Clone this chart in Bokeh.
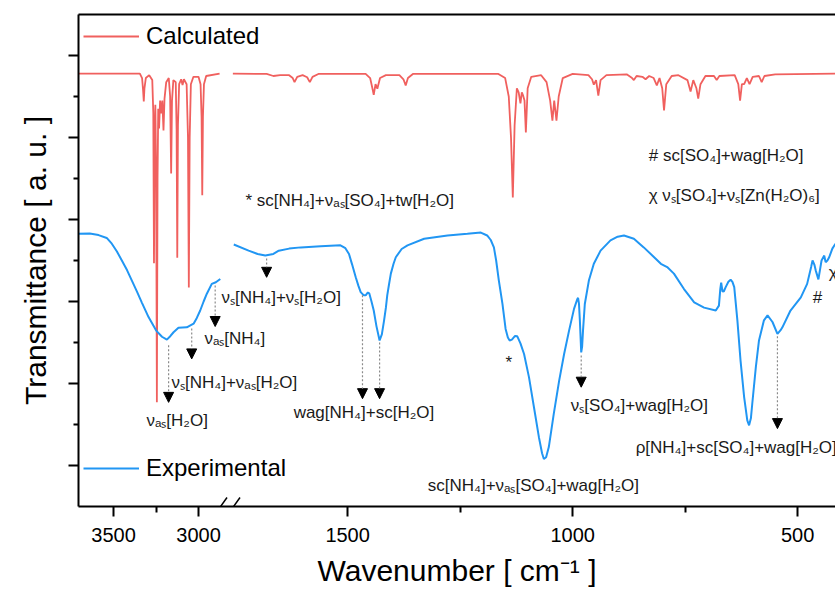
from bokeh.plotting import figure
from bokeh.models import (Range1d, FixedTicker, LinearAxis, Label, Arrow, NormalHead,
                          Legend, LegendItem, ColumnDataSource, Grid)
from bokeh.embed import file_html
from bokeh.resources import INLINE

# ---------------- data (wavenumber in cm^-1, transmittance in a.u.) ----------------
# Calculated spectrum, high-wavenumber segment
calc_hi_wn = [3706, 3345, 3332, 3326, 3322, 3318, 3310, 3290, 3272, 3266, 3262, 3258, 3254,
              3249, 3245, 3241, 3237, 3232, 3226, 3219, 3213, 3206, 3200, 3190, 3175, 3167,
              3161, 3156, 3148, 3134, 3129, 3125, 3121, 3114, 3102, 3094, 3086, 3070, 3062,
              3057, 3052, 3045, 3030, 3000, 2988, 2982, 2978, 2974, 2968, 2955, 2876]
calc_hi_t = [10.56, 10.56, 10.45, 10.15, 9.88, 10.2, 10.45, 10.52, 10.40, 9.6, 5.93, 9.0, 9.8,
             8.0, 2.54, 8.0, 9.7, 9.22, 9.9, 9.59, 9.9, 9.17, 9.95, 10.35, 10.45, 10.0,
             8.12, 9.9, 10.4, 10.35, 9.2, 6.07, 9.3, 10.3, 10.42, 10.28, 10.42, 10.3, 9.0,
             5.34, 9.0, 10.3, 10.48, 10.48, 10.3, 9.5, 7.59, 9.5, 10.3, 10.5, 10.56]

# Calculated spectrum, low-wavenumber segment
calc_lo_wn = [1755, 1680, 1665, 1650, 1630, 1622, 1618, 1612, 1600, 1590, 1584, 1578, 1565,
              1460, 1450, 1445, 1442, 1438, 1434, 1428, 1415, 1385, 1376, 1371, 1366, 1355,
              1165, 1150, 1142, 1137, 1133, 1129, 1124, 1120, 1116, 1113, 1110, 1107, 1104,
              1100, 1092, 1070, 1058, 1050, 1045, 1041, 1036, 1031, 1022, 1000, 965, 957,
              953, 948, 943, 938, 925, 880, 868, 864, 858, 845, 838, 830, 820, 813, 807,
              801, 797, 792, 780, 765, 745, 738, 732, 725, 721, 716, 705, 686, 680, 674,
              640, 632, 628, 624, 619, 613, 607, 600, 586, 580, 574, 550, 416]
calc_lo_t = [10.56, 10.55, 10.50, 10.52, 10.52, 10.45, 10.35, 10.48, 10.52, 10.47, 10.35, 10.48, 10.55,
             10.55, 10.45, 10.2, 10.04, 10.3, 10.19, 10.45, 10.52, 10.52, 10.42, 10.27, 10.45, 10.55,
             10.55, 10.45, 10.0, 9.0, 7.54, 9.3, 10.2, 10.1, 9.83, 10.1, 10.02, 9.9, 9.12,
             10.2, 10.48, 10.52, 10.35, 9.9, 9.41, 9.9, 9.41, 10.0, 10.45, 10.55, 10.52, 10.42,
             10.29, 10.4, 10.02, 10.4, 10.52, 10.54, 10.45, 10.4, 10.5, 10.48, 10.42, 10.5, 10.45, 10.27, 10.45,
             10.2, 9.66, 10.3, 10.5, 10.52, 10.4, 10.12, 10.4, 10.2, 9.95, 10.3, 10.5, 10.5, 10.4, 10.5,
             10.52, 10.3, 9.90, 10.3, 10.3, 10.45, 10.3, 10.48, 10.5, 10.35, 10.5, 10.54, 10.56]

# Experimental spectrum, high-wavenumber segment
exp_hi_wn = [3706, 3640, 3588, 3540, 3510, 3480, 3451, 3420, 3392, 3362, 3334, 3294, 3249,
             3215, 3186, 3165, 3147, 3118, 3069, 3029, 3010, 2990, 2970, 2951, 2922, 2898, 2872]
exp_hi_t = [6.65, 6.66, 6.62, 6.55, 6.41, 6.22, 6.00, 5.76, 5.51, 5.24, 4.98, 4.62, 4.29,
            4.14, 4.07, 4.16, 4.25, 4.36, 4.37, 4.46, 4.60, 4.78, 5.00, 5.19, 5.43, 5.47, 5.55]

# Experimental spectrum, low-wavenumber segment
exp_lo_wn = [1753, 1720, 1700, 1683, 1665, 1653, 1630, 1604, 1560, 1516, 1505, 1497, 1490,
             1482, 1476, 1471, 1464, 1460, 1455, 1452, 1447, 1442, 1436, 1429, 1424, 1419,
             1415, 1412, 1408, 1404, 1398, 1393, 1380, 1367, 1330, 1278, 1234, 1204, 1190,
             1182, 1175, 1170, 1164, 1156, 1149, 1144, 1140, 1135, 1128, 1123, 1116, 1108,
             1097, 1086, 1075, 1068, 1064, 1059, 1053, 1042, 1030, 1019, 1008, 997, 990,
             988, 986, 984, 981, 979, 977, 973, 964, 953, 938, 916, 900, 886, 864, 842,
             819, 804, 790, 775, 753, 730, 708, 682, 675, 672, 670, 667, 664, 660, 654,
             649, 645, 641, 634, 627, 619, 612, 608, 604, 601, 593, 586, 575, 567, 556,
             545, 538, 534, 516, 493, 479, 470, 467, 463, 460, 454, 450, 447, 441, 438,
             434, 430, 423, 416]
exp_lo_t = [6.39, 6.24, 6.16, 6.12, 6.16, 6.24, 6.29, 6.32, 6.35, 6.37, 6.30, 6.16, 5.90,
            5.59, 5.38, 5.23, 5.15, 5.15, 5.22, 5.20, 5.00, 4.78, 4.40, 4.05, 4.20, 4.54,
            4.85, 5.15, 5.42, 5.68, 5.92, 6.08, 6.28, 6.37, 6.53, 6.61, 6.65, 6.68, 6.61,
            6.50, 6.32, 6.00, 5.51, 4.94, 4.33, 4.12, 4.05, 4.07, 4.16, 4.15, 3.98, 3.72,
            3.15, 2.42, 1.69, 1.30, 1.16, 1.20, 1.45, 2.26, 3.07, 3.72, 4.29, 4.82, 5.05,
            5.09, 4.95, 4.54, 3.76, 3.90, 4.29, 4.94, 5.51, 5.92, 6.24, 6.49, 6.58, 6.61, 6.53, 6.32,
            6.08, 5.92, 5.84, 5.68, 5.31, 4.98, 4.85, 4.78, 4.90, 5.30, 5.46, 5.24, 5.25, 5.35, 5.48,
            5.53, 5.48, 5.35, 4.54, 3.56, 2.67, 2.10, 1.98, 2.15, 2.50, 3.40, 4.05, 4.54, 4.66, 4.50,
            4.21, 4.30, 4.37, 4.78, 5.10, 5.43, 5.85, 6.00, 5.90, 5.76, 5.54, 5.80, 6.00, 6.12, 5.96,
            6.00, 6.08, 6.29, 6.41]

x_ticks_hi = [3500, 3000]
x_minor_hi = [3250]
x_ticks_lo = [1500, 1000, 500]
x_minor_lo = [1250, 750]
y_major = [1, 3, 5, 7, 9, 11]
y_minor = [2, 4, 6, 8, 10]

series_names = ["Calculated", "Experimental"]

# ---------------- styling ----------------
FONT = "Liberation Sans"
RED = "#F0605E"
BLUE = "#2196F3"
TXT = "#1a1a1a"
W, H = 835, 590

# broken axis: both segments share the same frame, each with its own linear scale
lo_range = Range1d(2098, 416)     # default x range (low-wavenumber segment)
hi_range = Range1d(3706, -747)    # extra x range (high-wavenumber segment)


def hi_to_lo(w):
    frac = (w - hi_range.start) / (hi_range.end - hi_range.start)
    return round(lo_range.start + frac * (lo_range.end - lo_range.start), 3)


p = figure(width=W, height=H, x_range=lo_range, y_range=Range1d(0, 12),
           output_backend="svg", toolbar_location=None,
           x_axis_location=None, y_axis_location=None,
           min_border_left=78, min_border_right=0, min_border_top=14, min_border_bottom=84)
p.extra_x_ranges = {"hi": hi_range}
p.outline_line_color = None
p.background_fill_color = "white"
p.border_fill_color = "white"
for r in list(p.center):
    if isinstance(r, Grid):
        r.visible = False

# bottom axis with ticks of both segments
maj = [hi_to_lo(t) for t in x_ticks_hi] + x_ticks_lo
mnr = [hi_to_lo(t) for t in x_minor_hi] + x_minor_lo
overrides = {hi_to_lo(t): str(t) for t in x_ticks_hi}
overrides.update({t: str(t) for t in x_ticks_lo})
xax = LinearAxis(ticker=FixedTicker(ticks=maj, minor_ticks=mnr), major_label_overrides=overrides)
xax.axis_line_width = 2
xax.major_tick_out = 10
xax.major_tick_in = 0
xax.minor_tick_out = 6
xax.minor_tick_in = 0
xax.major_tick_line_width = 2
xax.minor_tick_line_width = 2
xax.major_label_text_font = FONT
xax.major_label_text_font_size = "20px"
xax.major_label_text_color = "black"
xax.major_label_standoff = 11
xax.axis_label = "Wavenumber [ cm\u207b\u00b9 ]"
xax.axis_label_text_font = FONT
xax.axis_label_text_font_size = "30px"
xax.axis_label_text_font_style = "normal"
xax.axis_label_text_color = "black"
xax.axis_label_standoff = 9
p.add_layout(xax, "below")

# top border
tax = LinearAxis(ticker=FixedTicker(ticks=[]))
tax.axis_line_width = 2
tax.major_tick_out = 0
tax.minor_tick_out = 0
tax.major_label_standoff = 0
p.add_layout(tax, "above")

# left axis: ticks without labels
yax = LinearAxis(ticker=FixedTicker(ticks=y_major, minor_ticks=y_minor),
                 major_label_overrides={t: "" for t in y_major})
yax.axis_line_width = 2
yax.major_tick_out = 10
yax.major_tick_in = 0
yax.minor_tick_out = 5
yax.minor_tick_in = 0
yax.major_tick_line_width = 2
yax.minor_tick_line_width = 2
yax.major_label_standoff = 0
yax.axis_label = "Transmittance [ a. u. ]"
yax.axis_label_text_font = FONT
yax.axis_label_text_font_size = "30px"
yax.axis_label_text_font_style = "normal"
yax.axis_label_text_color = "black"
yax.axis_label_standoff = 17
p.add_layout(yax, "left")

# spectra
src_c_hi = ColumnDataSource(dict(wn=calc_hi_wn, t=calc_hi_t))
src_c_lo = ColumnDataSource(dict(wn=calc_lo_wn, t=calc_lo_t))
src_e_hi = ColumnDataSource(dict(wn=exp_hi_wn, t=exp_hi_t))
src_e_lo = ColumnDataSource(dict(wn=exp_lo_wn, t=exp_lo_t))

r_c_hi = p.line("wn", "t", source=src_c_hi, line_color=RED, line_width=1.8, x_range_name="hi")
r_e_hi = p.line("wn", "t", source=src_e_hi, line_color=BLUE, line_width=2, x_range_name="hi")
p.line("wn", "t", source=src_c_lo, line_color=RED, line_width=1.8)
p.line("wn", "t", source=src_e_lo, line_color=BLUE, line_width=2)

# legends
for name, rend, vy in [(series_names[0], r_c_hi, 456), (series_names[1], r_e_hi, 24)]:
    lg = Legend(items=[LegendItem(label=name, renderers=[rend])], location=(5, vy))
    lg.padding = 0
    lg.margin = 0
    lg.glyph_width = 56
    lg.glyph_height = 28
    lg.label_height = 28
    lg.label_standoff = 7
    lg.label_text_font = FONT
    lg.label_text_font_size = "24px"
    lg.label_text_color = "black"
    lg.border_line_color = None
    lg.background_fill_alpha = 0
    p.add_layout(lg)

# axis break marks (visible part inside the frame)
for x0 in (135, 148):
    p.add_layout(Arrow(end=None, x_start=x0, y_start=-10, x_end=x0 + 13.5, y_end=9,
                       start_units="screen", end_units="screen",
                       line_color="black", line_width=1.5))

# band assignments (text, x, y, align, x-range)
annotations = [
    ("\u03bd\u209b[NH\u2084]+\u03bd\u209b[H\u2082O]", 2865, 5.10, "left", "hi"),
    ("\u03bd\u2090\u209b[NH\u2084]", 2965, 4.10, "left", "hi"),
    ("\u03bd\u209b[NH\u2084]+\u03bd\u2090\u209b[H\u2082O]", 3159, 3.03, "left", "hi"),
    ("\u03bd\u2090\u209b[H\u2082O]", 3306, 2.10, "left", "hi"),
    ("* sc[NH\u2084]+\u03bd\u2090\u209b[SO\u2084]+tw[H\u2082O]", 1727, 7.46, "left", "default"),
    ("# sc[SO\u2084]+wag[H\u2082O]", 831, 8.56, "left", "default"),
    ("\u03c7 \u03bd\u209b[SO\u2084]+\u03bd\u209b[Zn(H\u2082O)\u2086]", 831, 7.59, "left", "default"),
    ("wag[NH\u2084]+sc[H\u2082O]", 1620, 2.30, "left", "default"),
    ("*", 1142, 3.51, "center", "default"),
    ("\u03bd\u209b[SO\u2084]+wag[H\u2082O]", 1004, 2.46, "left", "default"),
    ("sc[NH\u2084]+\u03bd\u2090\u209b[SO\u2084]+wag[H\u2082O]", 1322, 0.51, "left", "default"),
    ("\u03c1[NH\u2084]+sc[SO\u2084]+wag[H\u2082O]", 860, 1.45, "left", "default"),
    ("#", 456, 5.10, "center", "default"),
    ("\u03c7", 431, 5.71, "left", "default"),
]
for txt, x, y, al, rn in annotations:
    p.add_layout(Label(x=x, y=y, x_range_name=rn, text=txt, text_font=FONT,
                       text_font_size="17px", text_color=TXT, text_align=al,
                       text_baseline="middle"))

# assignment arrows (x, y_start, y_end, x-range)
arrows = [(3176, 3.93, 2.54, "hi"), (3040, 4.34, 3.60, "hi"), (2902, 5.39, 4.39, "hi"),
          (1680, 6.05, 5.59, "default"), (1467, 5.15, 2.63, "default"),
          (1429, 4.0, 2.63, "default"), (981, 3.68, 2.91, "default"),
          (545, 4.15, 1.90, "default")]
for x, y0, y1, rn in arrows:
    p.add_layout(Arrow(x_start=x, y_start=y0, x_end=x, y_end=y1, x_range_name=rn,
                       line_color="#8a8a8a", line_width=1.2, line_dash="2 2",
                       end=NormalHead(size=10, fill_color="black", line_color="black",
                                      line_width=1)))

open("out.html", "w").write(file_html(p, INLINE))
